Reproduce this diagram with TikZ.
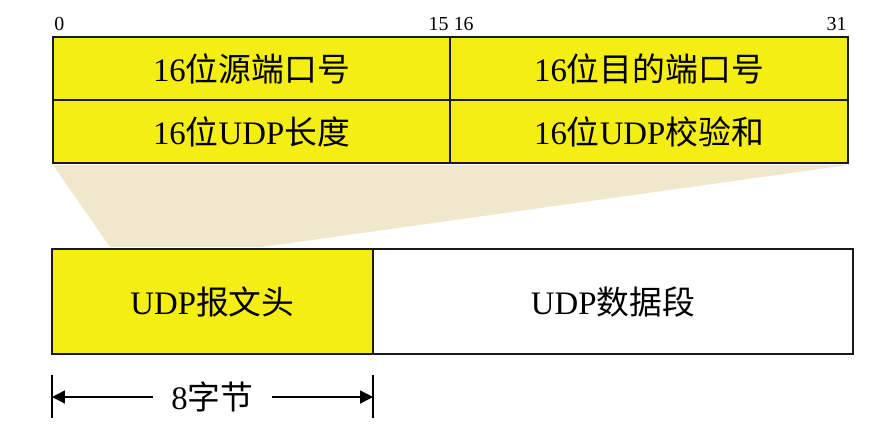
\documentclass[tikz,border=0pt]{standalone}
\usepackage{fontspec}
\setmainfont{Liberation Serif}
\newfontfamily\cjk{Noto Sans CJK SC}
\usetikzlibrary{arrows.meta,positioning,calc}
\definecolor{UdpYellow}{HTML}{F5EE14}
\definecolor{UdpBeige}{HTML}{F0E8CC}
\definecolor{UdpLine}{HTML}{1A1A1A}
\newcommand{\zh}[1]{{\cjk #1}}

\begin{document}
\begin{tikzpicture}[
    font=\fontsize{28}{30}\selectfont,
    field/.style={draw=UdpLine, fill=UdpYellow, line width=1.1pt, outer sep=0pt, inner sep=0pt, minimum height=1.89cm},
    part/.style={draw=UdpLine, line width=1.6pt, outer sep=0pt, inner sep=0pt, minimum height=3.15cm},
    bitnum/.style={font=\fontsize{17}{18}\selectfont, inner sep=1pt, yshift=4pt},
    tick/.style={line width=1.2pt},
    dimarrow/.style={-{Triangle[length=11pt, width=11pt]}, line width=1.2pt}
]
  \useasboundingbox (0,0) rectangle (26.64,-12.99);

  % =========================================================================
  % CABECALHO UDP (4 CAMPOS DE 16 BITS)
  % =========================================================================
  \node[field, minimum width=11.91cm] (f_src) at (7.545, -2.055) {16\zh{位源端口号}};
  \node[field, minimum width=11.94cm, right=0pt of f_src] (f_dst) {16\zh{位目的端口号}};
  \node[field, minimum width=11.91cm, below=0pt of f_src] (f_len) {16\zh{位}UDP\zh{长度}};
  \node[field, minimum width=11.94cm, below=0pt of f_dst] (f_chk) {16\zh{位}UDP\zh{校验和}};

  % numeros de bit
  \node[bitnum, anchor=south west] (b_0) at (f_src.north west) {0};
  \node[bitnum, anchor=south east] (b_15) at (f_src.north east) {15};
  \node[bitnum, anchor=south west, xshift=2pt] (b_16) at (f_dst.north west) {16};
  \node[bitnum, anchor=south east] (b_31) at (f_dst.north east) {31};

  % =========================================================================
  % DATAGRAMA UDP
  % =========================================================================
  \node[part, fill=UdpYellow, minimum width=9.63cm] (p_hdr) at (6.375, -9.045) {UDP\zh{报文头}};
  \node[part, fill=white, minimum width=14.4cm, right=0pt of p_hdr] (p_data) {UDP\zh{数据段}};

  % Ampliacao (trapezio)
  \fill[UdpBeige] ($(f_len.south west)+(0,-0.06)$) -- ($(f_chk.south east)+(0,-0.06)$)
    -- ($(p_hdr.north west)+(6.3,0.06)$) -- ($(p_hdr.north west)+(1.74,0.06)$) -- cycle;

  % =========================================================================
  % COTA: 8 BYTES
  % =========================================================================
  \coordinate (d_l) at ($(p_hdr.south west)+(0,-1.29)$);
  \coordinate (d_r) at ($(p_hdr.south east)+(0,-1.29)$);
  \node[inner xsep=16pt, inner ysep=0pt] (d_txt) at ($(d_l)!0.5!(d_r)$) {8\zh{字节}};

  \draw[tick] ($(d_l)+(0,0.66)$) -- ($(d_l)+(0,-0.63)$);
  \draw[tick] ($(d_r)+(0,0.66)$) -- ($(d_r)+(0,-0.63)$);
  \draw[dimarrow] (d_txt.west) -- (d_l);
  \draw[dimarrow] (d_txt.east) -- (d_r);

\end{tikzpicture}
\end{document}
